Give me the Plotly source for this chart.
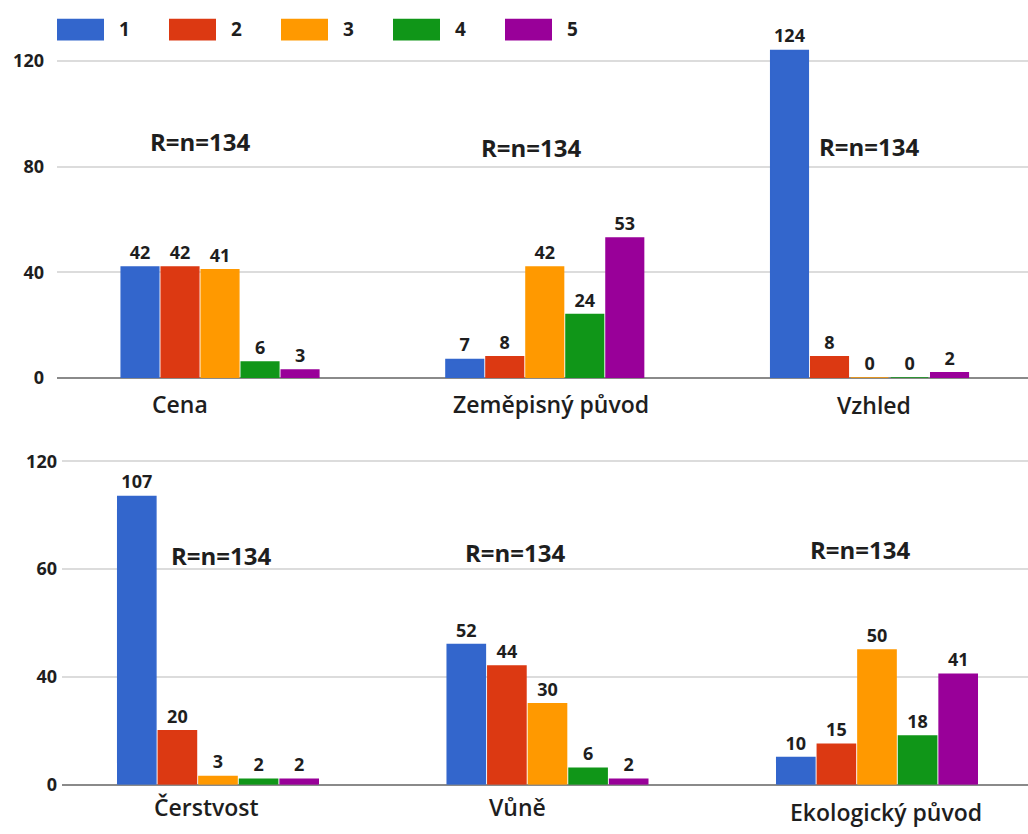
import plotly.graph_objects as go

# Survey results: how many respondents (n=134) gave each rating 1-5 to each attribute
top_categories = ["Cena", "Zeměpisný původ", "Vzhled"]
bottom_categories = ["Čerstvost", "Vůně", "Ekologický původ"]

series_names = ["1", "2", "3", "4", "5"]
series_colors = ["#3366CC", "#DC3912", "#FF9900", "#109618", "#990099"]

top_values = [
    [42, 7, 124],   # 1
    [42, 8, 8],     # 2
    [41, 42, 0],    # 3
    [6, 24, 0],     # 4
    [3, 53, 2],     # 5
]
bottom_values = [
    [107, 52, 10],  # 1
    [20, 44, 15],   # 2
    [3, 30, 50],    # 3
    [2, 6, 18],     # 4
    [2, 2, 41],     # 5
]

sample_note = "R=n=134"
tick_values = [0, 40, 80, 120]
top_tick_text = ["0", "40", "80", "120"]
bottom_tick_text = ["0", "40", "60", "120"]

W, H = 1028, 834
FONT = "Open Sans"
DARK = "#1e1e1e"


def px_y(y):
    return 1 - y / H


def px_x(x):
    return x / W


fig = go.Figure()

for name, color, tv, bv in zip(series_names, series_colors, top_values, bottom_values):
    common = dict(
        name=name,
        marker=dict(color=color, line=dict(color=color, width=1.5)),
        texttemplate="%{y}",
        textposition="outside",
        textangle=0,
        constraintext="none",
        cliponaxis=False,
        textfont=dict(family=FONT, size=18, color=DARK, weight="bold"),
        showlegend=False,
        hoverinfo="x+y+name",
    )
    fig.add_trace(go.Bar(x=top_categories, y=tv, xaxis="x", yaxis="y", **common))
    fig.add_trace(go.Bar(x=bottom_categories, y=bv, xaxis="x2", yaxis="y2", **common))

axis_y_common = dict(
    tickmode="array",
    tickvals=tick_values,
    showgrid=True,
    gridcolor="#dcdcdc",
    gridwidth=2,
    zeroline=True,
    zerolinecolor="#8a8a8a",
    zerolinewidth=2,
    showline=False,
    ticks="",
    tickfont=dict(family=FONT, size=18, color=DARK, weight="bold"),
    fixedrange=True,
)
axis_x_common = dict(
    type="category",
    showgrid=False,
    zeroline=False,
    showline=False,
    showticklabels=False,
    ticks="",
    fixedrange=True,
)

fig.update_layout(
    width=W,
    height=H,
    margin=dict(l=0, r=0, t=0, b=0),
    paper_bgcolor="white",
    plot_bgcolor="white",
    barmode="group",
    bargap=0.384,
    bargroupgap=0.06,
    xaxis=dict(domain=[px_x(57), 1], range=[-0.502, 2.488], anchor="y", **axis_x_common),
    yaxis=dict(domain=[px_y(383), px_y(35)], range=[0, 130], anchor="x",
               ticktext=top_tick_text, ticklabelstandoff=12, **axis_y_common),
    xaxis2=dict(domain=[px_x(62), 1], range=[-0.4734, 2.4583], anchor="y2", **axis_x_common),
    yaxis2=dict(domain=[px_y(795), px_y(454)], range=[0, 125], anchor="x2",
                ticktext=bottom_tick_text, ticklabelstandoff=4, **axis_y_common),
)

annotations = []

# Category names under each group
cat_layout = [
    ("x", top_categories, [-40, 6, 4], [409, 409, 410]),
    ("x2", bottom_categories, [-11, -30, 9], [818, 818, 823]),
]
for xref, cats, shifts, ys in cat_layout:
    for cat, dx, y in zip(cats, shifts, ys):
        annotations.append(dict(
            x=cat, xref=xref, y=px_y(y), yref="paper", xshift=dx,
            text=cat, showarrow=False, xanchor="center", yanchor="middle",
            font=dict(family=FONT, size=23, color=DARK, weight=600),
        ))

# Sample size note above each group
note_layout = [
    ("x", top_categories, [-20, -13, 0], [143, 149, 148]),
    ("x2", bottom_categories, [4, -32, -16], [563, 560, 557]),
]
for xref, cats, shifts, ys in note_layout:
    for cat, dx, y in zip(cats, shifts, ys):
        annotations.append(dict(
            x=cat, xref=xref, y=px_y(y), yref="paper", xshift=dx,
            text=sample_note, showarrow=False, xanchor="center", yanchor="middle",
            font=dict(family=FONT, size=24, color=DARK, weight="bold"),
        ))

# Legend drawn as coloured blocks with labels along the top
shapes = []
for i, (name, color) in enumerate(zip(series_names, series_colors)):
    left = 57 + 112 * i
    shapes.append(dict(
        type="rect", xref="paper", yref="paper",
        x0=px_x(left), x1=px_x(left + 47), y0=px_y(41), y1=px_y(19),
        fillcolor=color, line=dict(width=0),
    ))
    annotations.append(dict(
        x=px_x(left + 60), xref="paper", y=px_y(29), yref="paper",
        text=name, showarrow=False, xanchor="left", yanchor="middle",
        font=dict(family=FONT, size=19, color=DARK, weight="bold"),
    ))

fig.update_layout(annotations=annotations, shapes=shapes)

fig.write_html("out.html")
